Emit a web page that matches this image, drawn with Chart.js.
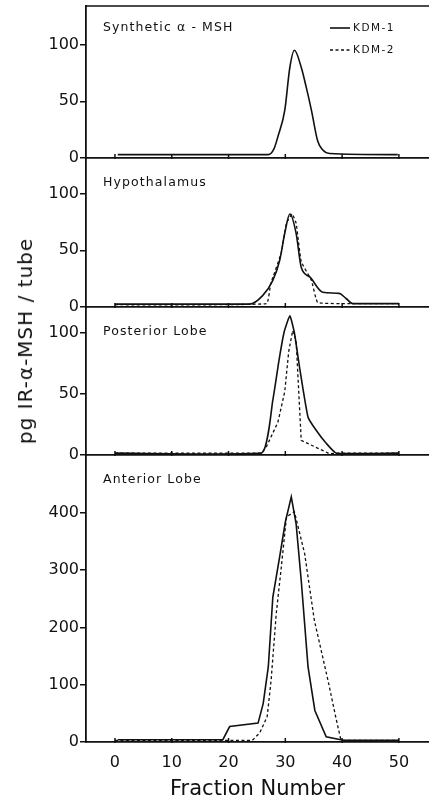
<!DOCTYPE html>
<html>
<head>
<meta charset="utf-8">
<script src="https://cdn.jsdelivr.net/npm/chart.js@4.4.1/dist/chart.umd.min.js"></script>
<style>
  body { margin: 0; background: #fff; }
  #wrap { position: relative; width: 429px; height: 800px; overflow: hidden; }
  #wrap canvas { position: absolute; left: 0; top: 0; }
  #ytitle {
    position: absolute; left: 25px; top: 341px;
    transform: translate(-50%, -50%) rotate(-90deg);
    font: 20px "DejaVu Sans"; letter-spacing: 1px; white-space: nowrap; color: #111;
  }
</style>
</head>
<body>
<div id="wrap">
  <canvas id="p1" width="429" height="800"></canvas>
  <canvas id="p2" width="429" height="800"></canvas>
  <canvas id="p3" width="429" height="800"></canvas>
  <canvas id="p4" width="429" height="800"></canvas>
  <div id="ytitle">pg IR-α-MSH / tube</div>
</div>
<script>
const xTicks = [0, 10, 20, 30, 40, 50];
const seriesNames = ['KDM-1', 'KDM-2'];

// Synthetic alpha-MSH (KDM-1 only)
const synFrac1 = [0.5, 27, 28, 28.7, 29.9, 30.8, 31.6, 32.8, 33.7, 34.6, 35.7, 36.6, 37.8, 49.8];
const synKdm1  = [3, 3, 8, 19, 42, 80, 95, 80, 62, 42, 15, 7, 4, 3];

// Hypothalamus
const hypFrac1 = [0, 23.7, 26, 27.8, 29, 29.9, 30.8, 31.9, 32.8, 34.3, 36.6, 39.5, 40.7, 41.9, 50];
const hypKdm1  = [2.5, 2.5, 10, 23.5, 41, 65, 82, 65, 35, 26.5, 13, 12, 7.5, 3, 3];
const hypFrac2 = [0, 26.7, 27.4, 29.3, 30.2, 31.2, 31.9, 32.8, 34.6, 35.7, 41.5, 50];
const hypKdm2  = [2, 3, 20, 48, 74, 82, 74, 40, 23.5, 4, 3, 3];

// Posterior lobe
const postFrac1 = [0, 25.8, 27.8, 28.9, 29.8, 30.8, 31.6, 32.5, 34, 35.4, 37.2, 39, 50];
const postKdm1  = [1.5, 1.5, 45, 78, 101, 114, 100, 72, 31, 20.5, 9.6, 1.5, 1.5];
const postFrac2 = [0, 25.8, 26.7, 28.7, 29.9, 30.6, 31.3, 31.9, 32.8, 37.8, 39, 50];
const postKdm2  = [1.5, 1.5, 7, 27, 52, 85, 102, 94, 12, 1, 1.5, 1.5];

// Anterior lobe
const antFrac1 = [0.5, 19, 20.2, 25.2, 26.1, 27, 27.8, 29, 30, 31.05, 31.9, 32.8, 34, 35.2, 37.2, 40.2, 50];
const antKdm1  = [4, 4, 27, 33, 67, 131, 253, 323, 384, 428, 381, 282, 131, 55, 9, 3, 3];
const antFrac2 = [0, 20, 24.2, 25.5, 26.8, 27.5, 28.4, 29.3, 30.2, 31.6, 33.4, 35.1, 37.5, 39, 39.8, 50];
const antKdm2  = [3, 3, 3, 16, 44, 108, 224, 306, 393, 402, 329, 213, 108, 38, 3, 3];

const smallTicks = [0, 50, 100];
const antTicks = [0, 100, 200, 300, 400];

const ink = '#111';
const pts = (xs, ys) => xs.map((x, i) => ({x: x, y: ys[i]}));
const solid = {borderColor: ink, borderWidth: 1.6, pointRadius: 0, fill: false};
const dashed = {borderColor: ink, borderWidth: 1.3, borderDash: [3, 2.5], pointRadius: 0, fill: false};

// labels, legend, upward x tick marks, top frame line
const decor = {
  id: 'decor',
  afterDraw(chart, args, opts) {
    const {ctx, chartArea: a, scales: {x}} = chart;
    ctx.save();
    ctx.strokeStyle = ink;
    ctx.lineWidth = 1.5;
    ctx.beginPath();
    xTicks.forEach(v => {
      const px = x.getPixelForValue(v);
      ctx.moveTo(px, a.bottom + 1);
      ctx.lineTo(px, a.bottom - 4);
    });
    if (opts.topLine) {
      ctx.moveTo(a.left - 1, a.top);
      ctx.lineTo(a.right, a.top);
    }
    ctx.stroke();

    ctx.fillStyle = ink;
    ctx.textBaseline = 'middle';
    ctx.font = '12.5px "DejaVu Sans"';
    ctx.letterSpacing = '1.1px';
    ctx.fillText(opts.label, a.left + 17, a.top + opts.labelDy);

    if (opts.legend) {
      ctx.font = '10.5px "DejaVu Sans"';
      ctx.letterSpacing = '1.5px';
      [solid, dashed].forEach((st, i) => {
        const y = a.top + 22 + i * 22;
        ctx.beginPath();
        ctx.lineWidth = st.borderWidth;
        ctx.setLineDash(st.borderDash || []);
        ctx.moveTo(330, y);
        ctx.lineTo(350, y);
        ctx.stroke();
        ctx.setLineDash([]);
        ctx.fillText(seriesNames[i], 353, y);
      });
    }
    ctx.restore();
  }
};

function panel(id, cfg) {
  const axisH = cfg.axisH || 0;
  return new Chart(document.getElementById(id), {
    type: 'line',
    data: {datasets: cfg.datasets},
    options: {
      responsive: false,
      animation: false,
      layout: {padding: {top: cfg.top, bottom: 800 - cfg.bottom - axisH, left: 0, right: 0}},
      plugins: {
        legend: {display: false},
        tooltip: {enabled: false},
        decor: {label: cfg.label, labelDy: cfg.labelDy, legend: !!cfg.legend, topLine: !!cfg.topLine}
      },
      scales: {
        x: {
          type: 'linear', min: -5.1, max: 55.3,
          afterBuildTicks: s => { s.ticks = xTicks.map(v => ({value: v})); },
          afterFit: s => { s.height = axisH; s.paddingLeft = 0; s.paddingRight = 0; },
          grid: {drawOnChartArea: false, drawTicks: false},
          border: {color: ink, width: 1.8},
          ticks: {display: axisH > 0, color: ink, font: {family: 'DejaVu Sans', size: 16}, padding: 11},
          title: {
            display: axisH > 0, text: 'Fraction Number', color: ink,
            font: {family: 'DejaVu Sans', size: 21, lineHeight: 1}, padding: 0
          }
        },
        y: {
          min: 0, max: cfg.ymax,
          afterBuildTicks: s => { s.ticks = cfg.yTicks.map(v => ({value: v})); },
          afterFit: s => { s.width = 86; s.paddingTop = 0; s.paddingBottom = 0; },
          grid: {drawOnChartArea: false, color: ink, lineWidth: 1.5, tickLength: 6},
          border: {color: ink, width: 1.8},
          ticks: {color: ink, font: {family: 'DejaVu Sans', size: 16}, padding: 1}
        }
      }
    },
    plugins: [decor]
  });
}

panel('p1', {
  top: 6, bottom: 158, ymax: 134, yTicks: smallTicks,
  label: 'Synthetic α - MSH', labelDy: 22, legend: true, topLine: true,
  datasets: [
    Object.assign({label: seriesNames[0], data: pts(synFrac1, synKdm1), cubicInterpolationMode: 'monotone'}, solid)
  ]
});

panel('p2', {
  top: 158, bottom: 307, ymax: 131.4, yTicks: smallTicks,
  label: 'Hypothalamus', labelDy: 24.5,
  datasets: [
    Object.assign({label: seriesNames[0], data: pts(hypFrac1, hypKdm1), cubicInterpolationMode: 'monotone'}, solid),
    Object.assign({label: seriesNames[1], data: pts(hypFrac2, hypKdm2), tension: 0.1}, dashed)
  ]
});

panel('p3', {
  top: 307, bottom: 455, ymax: 121.3, yTicks: smallTicks,
  label: 'Posterior Lobe', labelDy: 24.5,
  datasets: [
    Object.assign({label: seriesNames[0], data: pts(postFrac1, postKdm1), tension: 0.15}, solid),
    Object.assign({label: seriesNames[1], data: pts(postFrac2, postKdm2)}, dashed)
  ]
});

panel('p4', {
  top: 455, bottom: 742, axisH: 58, ymax: 501, yTicks: antTicks,
  label: 'Anterior Lobe', labelDy: 25,
  datasets: [
    Object.assign({label: seriesNames[0], data: pts(antFrac1, antKdm1)}, solid),
    Object.assign({label: seriesNames[1], data: pts(antFrac2, antKdm2)}, dashed)
  ]
});
</script>
</body>
</html>
